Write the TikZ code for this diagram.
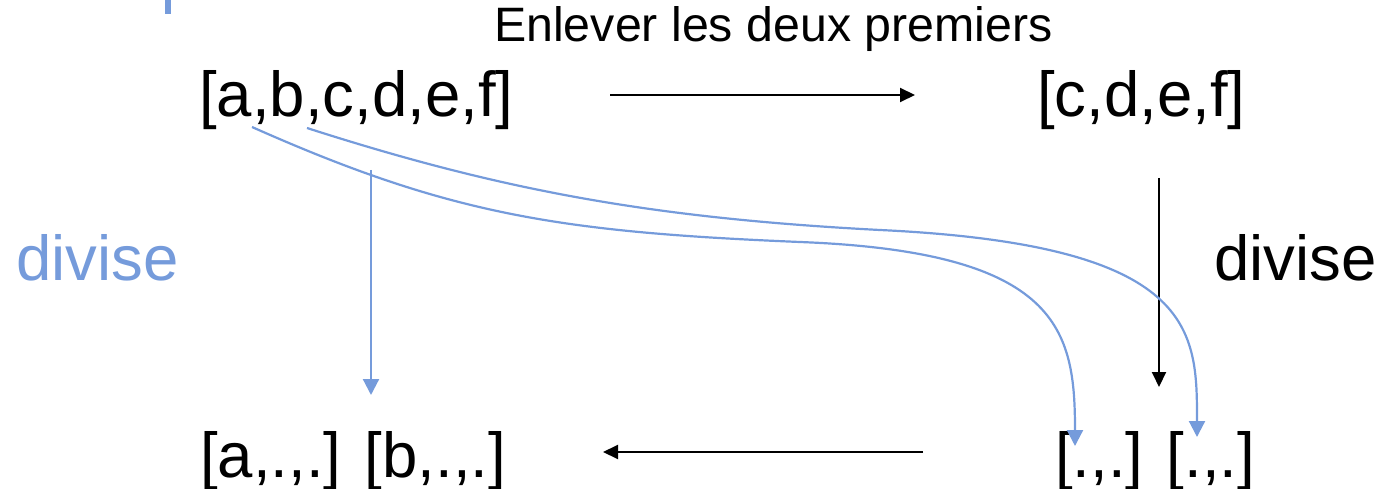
\documentclass[tikz,border=0pt]{standalone}
\usepackage{fontspec}
\setmainfont{Liberation Sans}
\usetikzlibrary{arrows.meta}
\definecolor{lblue}{RGB}{117,155,219}
\begin{document}
\begin{tikzpicture}[x=1pt,y=-1pt,
  big/.style={inner sep=0pt,anchor=base west,font=\fontsize{63.5}{70}\selectfont},
  lab/.style={inner sep=0pt,anchor=base west,font=\fontsize{48.3}{56}\selectfont},
  blk/.style={line width=2pt,-{Triangle[length=15pt,width=14pt]}},
  blu/.style={lblue,line width=2.2pt,-{Triangle[length=16pt,width=16pt]}}]
\useasboundingbox (0,0) rectangle (1384,489);
\fill[lblue] (165,0) rectangle (171,14);
\node[lab] (lbl) at (494,42) {Enlever les deux premiers};
\node[big] (abc) at (199,117) {[a,b,c,d,e,f]};
\node[big] (cdef) at (1037,117) {[c,d,e,f]};
\node[big,text=lblue] (dl) at (16,280) {divise};
\node[big] (dr) at (1214,280) {divise};
\node[big] (ab) at (200,477) {[a,.,.] [b,.,.]};
\node[big] (pp) at (1055,477) {[.,.] [.,.]};
\coordinate (t1) at (610,95);
\coordinate (t2) at (915,95);
\coordinate (b1) at (923,452);
\coordinate (b2) at (603,452);
\coordinate (r1) at (1159,178);
\coordinate (r2) at (1159,387);
\coordinate (l1) at (371,170);
\coordinate (l2) at (371,395);
\coordinate (ca) at (252,127);
\coordinate (cam) at (800,242);
\coordinate (cae) at (1075,446);
\coordinate (cb) at (307,128);
\coordinate (cbm) at (880,230);
\coordinate (cbe) at (1197,437);
\draw[blk] (t1) -- (t2);
\draw[blk] (b1) -- (b2);
\draw[blk] (r1) -- (r2);
\draw[blu] (l1) -- (l2);
\draw[blu] (ca) .. controls (450,215) and (560,232) .. (cam)
  .. controls (1060,252) and (1075,330) .. (cae);
\draw[blu] (cb) .. controls (500,190) and (650,218) .. (cbm)
  .. controls (1197,245) and (1197,330) .. (cbe);
\end{tikzpicture}
\end{document}
